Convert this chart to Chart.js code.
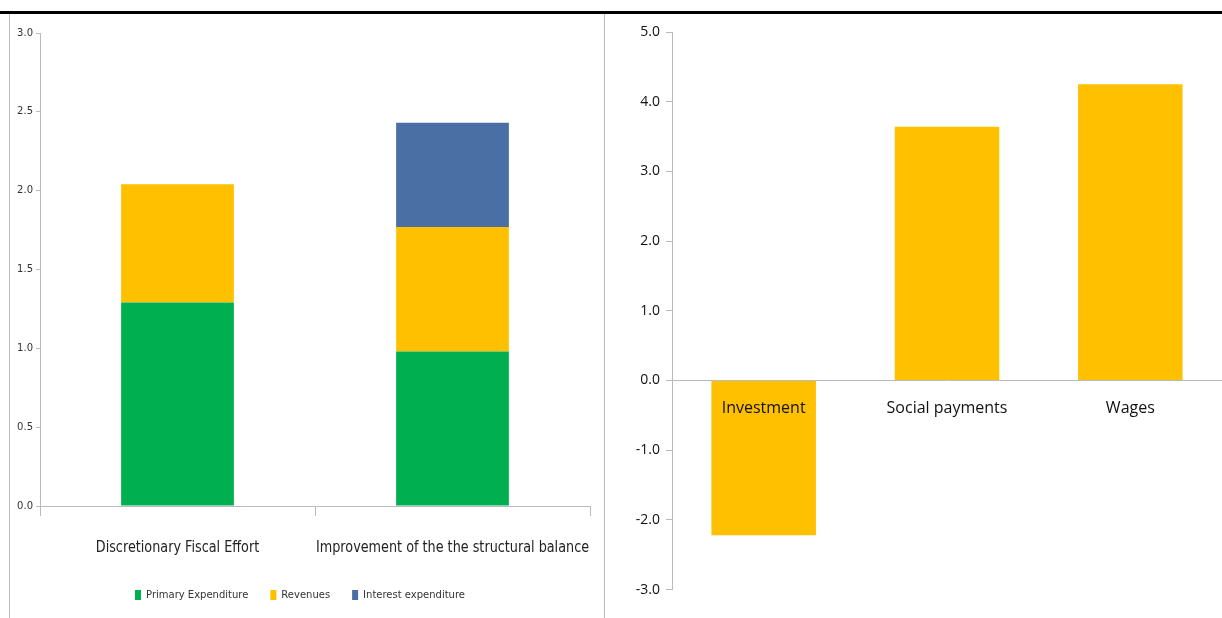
<!DOCTYPE html>
<html><head><meta charset="utf-8">
<script src="https://cdn.jsdelivr.net/npm/chart.js@4"></script>
<style>
body{margin:0;background:#fff;width:1222px;height:618px;position:relative;overflow:hidden}
#topline{position:absolute;left:0;top:11px;width:1222px;height:3px;background:#000}
#lbox{position:absolute;left:9px;top:14px;width:594px;height:604px;border-left:1px solid #bbb;border-right:1px solid #bbb}
#c1{position:absolute;left:10px;top:14px}
#c2{position:absolute;left:605px;top:14px}
</style></head><body>
<div id="topline"></div><div id="lbox"></div>
<canvas id="c1" width="593" height="604"></canvas>
<canvas id="c2" width="617" height="590"></canvas>
<script>
const leftCats=["Discretionary Fiscal Effort","Improvement of the the structural balance"];
const primaryExp=[1.29,0.98];
const revenues=[0.75,0.79];
const interestExp=[0,0.66];
const rightCats=["Investment","Social payments","Wages"];
const rightVals=[-2.22,3.64,4.25];
const fam="'DejaVu Sans', sans-serif";
function labelPlugin(font,color,yOff,sx){return {id:'lbl',afterDatasetsDraw(c){
  const x=c.scales.x,ctx=c.ctx;ctx.save();ctx.font=font;ctx.fillStyle=color;ctx.textAlign='center';ctx.textBaseline='middle';
  const y0=c.scales.y.getPixelForValue(0)+yOff;
  c.data.labels.forEach((l,i)=>{const px=x.getPixelForValue(i);ctx.save();ctx.translate(px,y0);ctx.scale(sx,1);ctx.fillText(l,0,0);ctx.restore();});
  ctx.restore();}};}
new Chart(document.getElementById('c1'),{type:'bar',
data:{labels:leftCats,datasets:[
{label:'Primary Expenditure',data:primaryExp,backgroundColor:'#00b050'},
{label:'Revenues',data:revenues,backgroundColor:'#ffc000'},
{label:'Interest expenditure',data:interestExp,backgroundColor:'#4a6fa5'}]},
options:{responsive:false,animation:false,layout:{padding:{top:19,right:13,bottom:8,left:0}},
plugins:{tooltip:{enabled:false},legend:{position:'bottom',labels:{boxWidth:6,boxHeight:10,font:{family:fam,size:10},color:'#333',padding:22}}},
datasets:{bar:{categoryPercentage:0.41,barPercentage:1}},
scales:{x:{stacked:true,afterFit:s=>{s.height=62},grid:{display:true,drawOnChartArea:false,offset:true,tickLength:10,color:'#bbb'},border:{color:'#bbb'},ticks:{display:false}},
y:{stacked:true,min:0,max:3,afterFit:s=>{s.width=30},grid:{drawOnChartArea:false,tickLength:4,color:'#bbb'},border:{color:'#bbb'},ticks:{stepSize:0.5,callback:v=>v.toFixed(1),font:{family:fam,size:10},color:'#333'}}}},
plugins:[labelPlugin("16px 'DejaVu Sans', sans-serif",'#222',42,0.8)]});
new Chart(document.getElementById('c2'),{type:'bar',
data:{labels:rightCats,datasets:[{data:rightVals,backgroundColor:'#ffc000'}]},
options:{responsive:false,animation:false,layout:{padding:{top:18,right:0,bottom:2}},
plugins:{tooltip:{enabled:false},legend:{display:false}},
datasets:{bar:{categoryPercentage:0.57,barPercentage:1}},
scales:{x:{position:{y:0},grid:{display:false},border:{color:'#bbb'},ticks:{display:false}},
y:{min:-3,max:5,afterFit:s=>{s.width=67},grid:{drawOnChartArea:false,tickLength:6,color:'#bbb'},border:{color:'#bbb'},ticks:{stepSize:1,callback:v=>v.toFixed(1),font:{family:'Open Sans, sans-serif',size:14},color:'#111',padding:6}}}},
plugins:[labelPlugin("16px 'Open Sans', sans-serif",'#111',28,1)]});
</script></body></html>
